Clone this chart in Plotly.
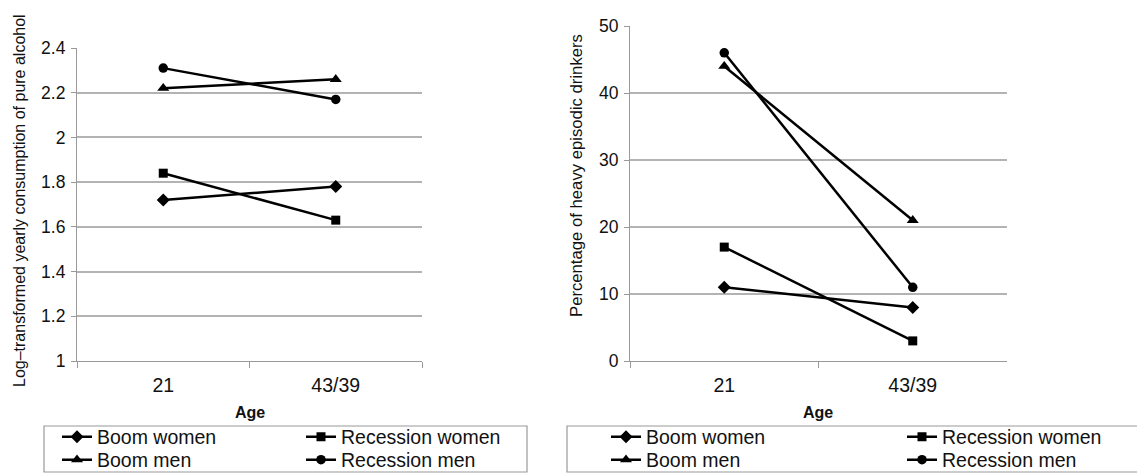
import plotly.graph_objects as go

# Target picture size and the browser's default 8px body margin
VW, VH = 1145, 473
OFF = 8
W, H = VW - OFF, VH - OFF

# ---------------- data ----------------
categories = ["21", "43/39"]
series_names = ["Boom women", "Recession women", "Boom men", "Recession men"]
series_symbols = ["diamond", "square", "triangle-up", "circle"]
series_sizes = [10, 9, 10.5, 9.5]

log_boom_women = [1.72, 1.78]
log_recession_women = [1.84, 1.63]
log_boom_men = [2.22, 2.26]
log_recession_men = [2.31, 2.17]

hed_boom_women = [11, 8]
hed_recession_women = [17, 3]
hed_boom_men = [44, 21]
hed_recession_men = [46, 11]

left_ytick_vals = [1, 1.2, 1.4, 1.6, 1.8, 2, 2.2, 2.4]
left_ytick_text = ["1", "1.2", "1.4", "1.6", "1.8", "2", "2.2", "2.4"]
right_ytick_vals = [0, 10, 20, 30, 40, 50]

left_title = "Log\u2013transformed yearly consumption of pure alcohol"
right_title = "Percentage of heavy episodic drinkers"
x_title = "Age"

# ---------------- helpers (viewport pixel -> paper fraction) ----------------
def px(x):
    return (x - OFF) / W

def py(y):
    return 1 - (y - OFF) / H

FONT = "Liberation Sans, Arial, sans-serif"
GRID = "#b3b3b3"
AXIS = "#9a9a9a"

fig = go.Figure()

left_series = [log_boom_women, log_recession_women, log_boom_men, log_recession_men]
right_series = [hed_boom_women, hed_recession_women, hed_boom_men, hed_recession_men]

for i, (name, vals) in enumerate(zip(series_names, left_series)):
    fig.add_trace(go.Scatter(
        x=categories, y=vals, name=name, mode="lines+markers",
        line=dict(color="black", width=2.5),
        marker=dict(symbol=series_symbols[i], size=series_sizes[i], color="black"),
        xaxis="x", yaxis="y", legend="legend" if i == 0 else f"legend{i+1}",
        cliponaxis=False, showlegend=True,
    ))
for i, (name, vals) in enumerate(zip(series_names, right_series)):
    fig.add_trace(go.Scatter(
        x=categories, y=vals, name=name, mode="lines+markers",
        line=dict(color="black", width=2.5),
        marker=dict(symbol=series_symbols[i], size=series_sizes[i], color="black"),
        xaxis="x2", yaxis="y2", legend=f"legend{i+5}",
        cliponaxis=False, showlegend=True,
    ))

# legend positions (left pixel of item, row centre pixel)
legend_pos = [
    (57, 437), (301, 437), (57, 460), (301, 460),
    (606, 437), (902, 437), (606, 460), (902, 460),
]
legends = {}
for k, (lx, ly) in enumerate(legend_pos):
    key = "legend" if k == 0 else f"legend{k+1}"
    legends[key] = dict(
        x=px(lx), y=py(ly), xanchor="left", yanchor="middle",
        xref="paper", yref="paper",
        bgcolor="rgba(0,0,0,0)", borderwidth=0,
        font=dict(family=FONT, size=19.5, color="#111"),
        itemwidth=30, orientation="v",
    )

xaxis_common = dict(
    type="category", range=[-0.5, 1.5], showline=True, linecolor=AXIS, linewidth=1.2,
    ticks="outside", tickson="boundaries", ticklen=6, tickcolor=AXIS, tickwidth=1.2,
    showgrid=False, zeroline=False, tickfont=dict(family=FONT, size=19.5, color="#111"),
    ticklabelstandoff=6, automargin=False,
)
yaxis_common = dict(
    showline=True, linecolor=AXIS, linewidth=1.2, ticks="outside", ticklen=5,
    tickcolor=AXIS, tickwidth=1.2, showgrid=True, gridcolor=GRID, gridwidth=1.5,
    zeroline=False, tickfont=dict(family=FONT, size=17.5, color="#111"),
    ticklabelstandoff=2, automargin=False,
)

fig.update_layout(
    width=W, height=H, showlegend=True,
    margin=dict(l=0, r=0, t=0, b=0, autoexpand=False),
    paper_bgcolor="white", plot_bgcolor="white",
    font=dict(family=FONT, color="#111"),
    xaxis=dict(domain=[px(77), px(422)], anchor="y", **xaxis_common),
    yaxis=dict(domain=[py(361), py(48)], anchor="x", range=[1, 2.4],
               tickvals=left_ytick_vals, ticktext=left_ytick_text, **yaxis_common),
    xaxis2=dict(domain=[px(630), px(1007)], anchor="y2", **xaxis_common),
    yaxis2=dict(domain=[py(361), py(26)], anchor="x2", range=[0, 50],
                tickvals=right_ytick_vals, **yaxis_common),
    **legends,
)

annotations = [
    dict(text=left_title, x=px(19), y=py(201), textangle=-90, font_size=16.0),
    dict(text=right_title, x=px(576), y=py(176), textangle=-90, font_size=16.7),
]
ann = []
for a in annotations:
    fs = a.pop("font_size")
    ann.append(dict(xref="paper", yref="paper", showarrow=False,
                    xanchor="center", yanchor="middle",
                    font=dict(family=FONT, size=fs, color="#111"), **a))
for cx in (250, 818):
    ann.append(dict(xref="paper", yref="paper", showarrow=False, text="<b>" + x_title + "</b>",
                    x=px(cx), y=py(412), xanchor="center", yanchor="middle",
                    font=dict(family=FONT, size=16, color="#111")))
fig.update_layout(annotations=ann)

shapes = [
    dict(type="rect", xref="paper", yref="paper", x0=px(44), x1=px(527),
         y0=py(472), y1=py(426), line=dict(color=AXIS, width=1.2), fillcolor="rgba(0,0,0,0)"),
    dict(type="rect", xref="paper", yref="paper", x0=px(567), x1=px(1160),
         y0=py(472), y1=py(426), line=dict(color=AXIS, width=1.2), fillcolor="rgba(0,0,0,0)"),
]
fig.update_layout(shapes=shapes)

fig.write_html("out.html")
